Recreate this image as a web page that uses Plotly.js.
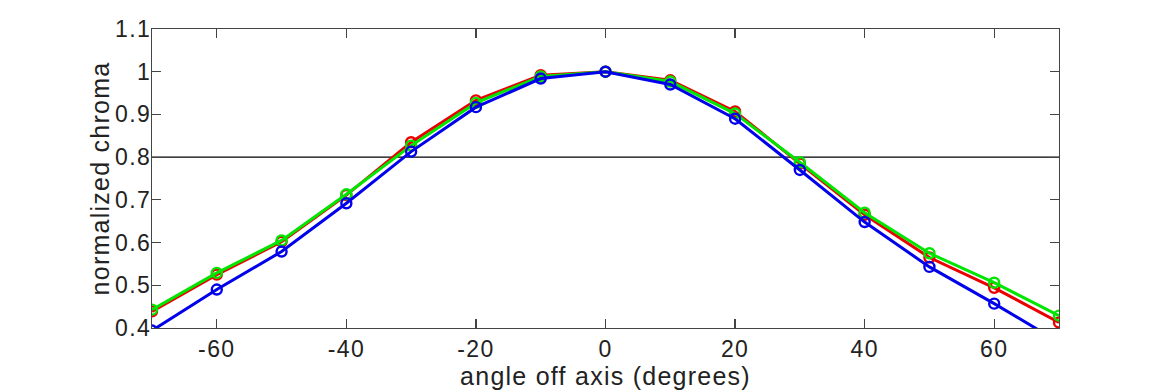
<!DOCTYPE html>
<html>
<head>
<meta charset="utf-8">
<script src="https://cdn.plot.ly/plotly-3.0.1.min.js"></script>
<style>
html,body{margin:0;padding:0;background:#fff;}
#chart{width:1170px;height:390px;}
#chart .xtick text, #chart .ytick text{letter-spacing:0.06em;}
#chart .xtitle, #chart .ytitle{letter-spacing:0.05em;}
</style>
</head>
<body>
<div id="chart"></div>
<script>
var angles = [-70, -60, -50, -40, -30, -20, -10, 0, 10, 20, 30, 40, 50, 60, 70];
var redValues   = [0.439, 0.525, 0.602, 0.711, 0.835, 0.933, 0.992, 1.0, 0.980, 0.907, 0.785, 0.665, 0.565, 0.494, 0.413];
var greenValues = [0.443, 0.529, 0.605, 0.713, 0.827, 0.927, 0.989, 1.0, 0.977, 0.902, 0.788, 0.670, 0.575, 0.506, 0.429];
var blueValues  = [0.394, 0.490, 0.579, 0.692, 0.813, 0.917, 0.984, 1.0, 0.970, 0.890, 0.770, 0.648, 0.543, 0.457, 0.367];
var xTicks = [-60, -40, -20, 0, 20, 40, 60];
var yTicks = [0.4, 0.5, 0.6, 0.7, 0.8, 0.9, 1, 1.1];
var yTickLabels = ['0.4', '0.5', '0.6', '0.7', '0.8', '0.9', '1', '1.1'];
var threshold = 0.8;

function series(y, color) {
  return {
    x: angles, y: y, type: 'scatter', mode: 'lines+markers', cliponaxis: true,
    line: {color: color, width: 3},
    marker: {symbol: 'circle-open', size: 10, color: color, line: {width: 2.4, color: color}},
    hoverinfo: 'skip'
  };
}

var data = [
  series(redValues, 'rgb(235,0,0)'),
  series(greenValues, 'rgb(0,230,0)'),
  series(blueValues, 'rgb(0,0,235)')
];

var fam = 'Liberation Sans, Arial, Helvetica, sans-serif';
var tickFont = {family: fam, size: 23, color: '#222'};
var titleFont = {family: fam, size: 25, color: '#222'};

var layout = {
  width: 1170, height: 390,
  margin: {l: 152, r: 111, t: 29, b: 62, pad: 0},
  paper_bgcolor: '#fff', plot_bgcolor: '#fff',
  showlegend: false,
  font: tickFont,
  xaxis: {
    range: [-70, 70], tickvals: xTicks, ticktext: xTicks.map(String),
    ticks: 'inside', ticklen: 9, tickwidth: 1.2, tickcolor: '#444',
    showline: true, linecolor: '#444', linewidth: 1.2, mirror: 'ticks',
    showgrid: false, zeroline: false,
    tickfont: tickFont,
    title: {text: 'angle off axis (degrees)', font: titleFont, standoff: 1}
  },
  yaxis: {
    range: [0.4, 1.1], tickvals: yTicks, ticktext: yTickLabels,
    ticks: 'inside', ticklen: 9, tickwidth: 1.2, tickcolor: '#444',
    showline: true, linecolor: '#444', linewidth: 1.2, mirror: 'ticks',
    showgrid: false, zeroline: false,
    tickfont: tickFont, ticklabelstandoff: -5,
    title: {text: 'normalized chroma', font: titleFont, standoff: 2}
  },
  shapes: [{
    type: 'line', xref: 'paper', x0: 0, x1: 1, yref: 'y', y0: threshold, y1: threshold,
    line: {color: '#000', width: 1.3}, layer: 'below'
  }]
};

Plotly.newPlot('chart', data, layout, {staticPlot: true, displayModeBar: false});
</script>
</body>
</html>
